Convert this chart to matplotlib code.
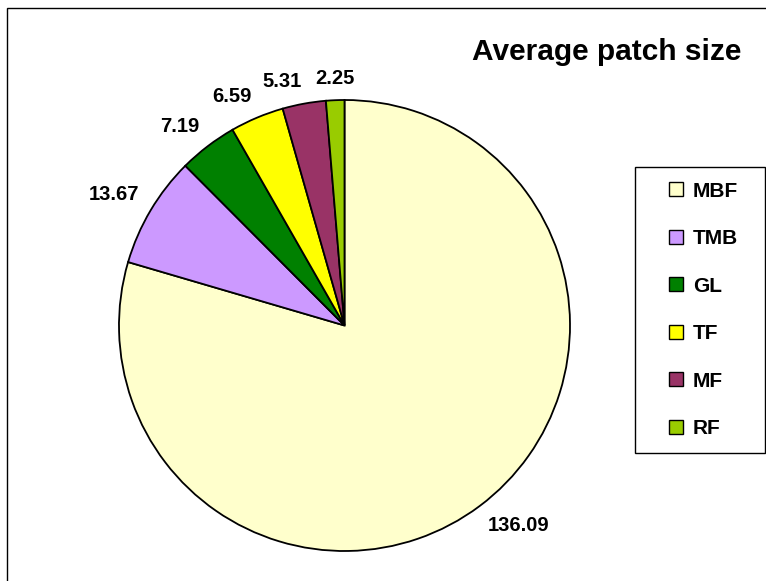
import numpy as np
import matplotlib.pyplot as plt
from matplotlib.patches import Rectangle

plt.rcParams['font.family'] = ['Liberation Sans', 'DejaVu Sans']

# data
classes = ['MBF', 'TMB', 'GL', 'TF', 'MF', 'RF']
patch_size = [136.09, 13.67, 7.19, 6.59, 5.31, 2.25]
colours = ['#FFFFCC', '#CC99FF', '#008000', '#FFFF00', '#993366', '#99CC00']
title = 'Average patch size'


def main():
    fig = plt.figure(figsize=(7.66, 5.81), dpi=100)

    # outer chart-area frame (right and bottom edges run off the picture)
    fig.patches.append(Rectangle((7 / 766, -0.1), 1.2, (581 - 8) / 581 + 0.1,
                                 transform=fig.transFigure, fill=False,
                                 edgecolor='black', linewidth=1.0))

    ax = fig.add_axes([119 / 766, 30 / 581, 451 / 766, 451 / 581])
    wedges, _ = ax.pie(patch_size, colors=colours, startangle=90,
                       counterclock=False,
                       wedgeprops=dict(edgecolor='black', linewidth=1.3))
    ax.set_xlim(-1, 1)
    ax.set_ylim(-1, 1)
    ax.axis('off')

    # value labels, Excel style: corner nearest the pie sits on the mid ray
    for w, v in zip(wedges, patch_size):
        ang = np.deg2rad((w.theta1 + w.theta2) / 2)
        x, y = 1.06 * np.cos(ang), 1.055 * np.sin(ang)
        if abs(np.cos(ang)) < 0.1:
            ha = 'center'
        elif x < 0:
            ha = 'right'
        else:
            ha = 'left'
        va = 'bottom' if y > 0 else 'top'
        ax.text(x, y, '%.2f' % v, ha=ha, va=va, fontsize=14.5,
                fontweight='bold')

    fig.text(741 / 766, 1 - 60 / 581, title, ha='right', va='baseline',
             fontsize=21.5, fontweight='bold')

    # legend box
    fig.patches.append(Rectangle((635 / 766, 1 - 453 / 581), 130 / 766,
                                 286 / 581, transform=fig.transFigure,
                                 fill=False, edgecolor='black', linewidth=1.0))
    leg = fig.legend(wedges, classes, loc='upper left',
                     bbox_to_anchor=(669 / 766, 1 - 181.5 / 581),
                     frameon=False,
                     prop=dict(size=15, weight='bold'),
                     handlelength=0.67, handleheight=0.65,
                     handletextpad=0.48, labelspacing=1.37,
                     borderpad=0, borderaxespad=0)
    for h in leg.legend_handles:
        h.set_linewidth(1.0)

    fig.savefig('out.png', dpi=100)


if __name__ == '__main__':
    main()
